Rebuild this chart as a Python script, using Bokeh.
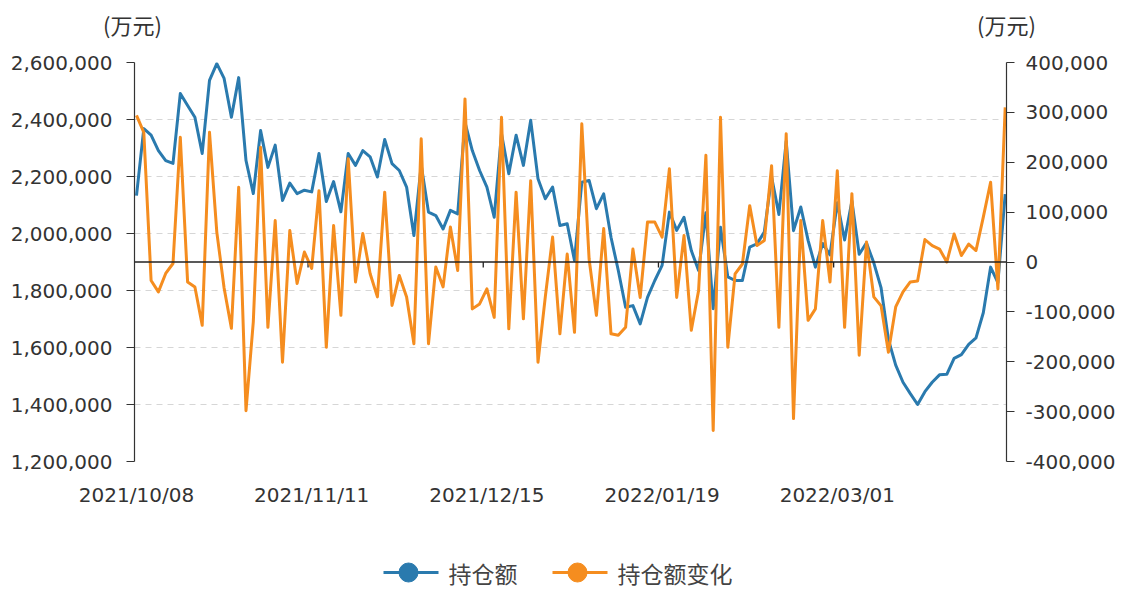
import pandas as pd
from bokeh.plotting import figure
from bokeh.models import (Range1d, LinearAxis, FixedTicker, NumeralTickFormatter,
                          Span, ColumnDataSource)
from bokeh.layouts import column
from bokeh.embed import file_html
from bokeh.resources import INLINE
from bokeh.core.properties import value

# ---------------- data ----------------
holidays = ["2022-01-03", "2022-01-31", "2022-02-01", "2022-02-02", "2022-02-03", "2022-02-04"]
dates = pd.bdate_range("2021-10-08", "2022-04-01", freq="C",
                       holidays=holidays).strftime("%Y/%m/%d").tolist()

series_names = ["持仓额", "持仓额变化"]
unit_text = "(万元)"

holding = [  # 持仓额 (万元)
    2133000, 2368000, 2345000, 2291000, 2256000, 2246000, 2491000, 2449000, 2408000, 2281000,
    2537000, 2596000, 2544000, 2408000, 2547000, 2256000, 2140000, 2361000, 2232000, 2310000,
    2116000, 2177000, 2140000, 2152000, 2146000, 2281000, 2112000, 2182000, 2076000, 2281000,
    2239000, 2291000, 2269000, 2198000, 2330000, 2245000, 2221000, 2163000, 1993000, 2240000,
    2075000, 2063000, 2016000, 2081000, 2069000, 2390000, 2291000, 2221000, 2163000, 2057000,
    2350000, 2210000, 2345000, 2239000, 2397000, 2192000, 2122000, 2163000, 2028000, 2034000,
    1905000, 2180000, 2186000, 2087000, 2139000, 1987000, 1870000, 1741000, 1747000, 1683000,
    1776000, 1835000, 1888000, 2075000, 2011000, 2057000, 1940000, 1870000, 2073000, 1736000,
    2022000, 1848000, 1835000, 1835000, 1952000, 1964000, 2005000, 2198000, 2067000, 2324000,
    2010000, 2093000, 1976000, 1882000, 1965000, 1925000, 2108000, 1977000, 2114000, 1927000,
    1967000, 1897000, 1809000, 1628000, 1538000, 1478000, 1438000, 1400000, 1445000, 1478000,
    1504000, 1506000, 1562000, 1575000, 1611000, 1634000, 1722000, 1882000, 1828000, 2138000,
]

change = [  # 持仓额变化 (万元)
    294000, 260000, -37000, -60000, -23000, -3000, 250000, -40000, -50000, -127000,
    260000, 60000, -52000, -133000, 150000, -298000, -120000, 230000, -131000, 83000,
    -201000, 63000, -43000, 20000, -13000, 143000, -171000, 73000, -107000, 207000,
    -40000, 57000, -23000, -70000, 140000, -87000, -27000, -70000, -164000, 247000,
    -164000, -10000, -50000, 70000, -17000, 327000, -94000, -84000, -54000, -111000,
    290000, -134000, 140000, -114000, 163000, -201000, -70000, 50000, -144000, 16000,
    -141000, 277000, 6000, -107000, 67000, -144000, -147000, -131000, 26000, -71000,
    80000, 80000, 50000, 187000, -71000, 53000, -137000, -57000, 214000, -338000,
    290000, -171000, -24000, -4000, 113000, 33000, 43000, 193000, -131000, 257000,
    -314000, 83000, -117000, -94000, 83000, -40000, 183000, -131000, 137000, -187000,
    40000, -70000, -88000, -181000, -90000, -60000, -40000, -38000, 45000, 33000,
    26000, 0, 56000, 13000, 36000, 23000, 90000, 160000, -54000, 310000,
]

label_idx = [0, 24, 48, 72, 96]
left_ticks = [1200000, 1400000, 1600000, 1800000, 2000000, 2200000, 2400000, 2600000]
right_ticks = [-400000, -300000, -200000, -100000, 0, 100000, 200000, 300000, 400000]

# ---------------- styling ----------------
BLUE = "#2a7aae"
ORANGE = "#f58d1f"
TXT = "#333333"
NUM_FONT = "DejaVu Sans"
CJK_FONT = "Noto Sans CJK SC"
W = 1120

n = len(dates)
idx = list(range(n))
src = ColumnDataSource(dict(x=idx, holding=holding, change=change, date=dates))

# ---------------- top strip with unit labels ----------------
t = figure(width=W, height=50, output_backend="svg", toolbar_location=None,
           x_range=Range1d(0, W), y_range=Range1d(0, 50),
           min_border_left=0, min_border_right=0, min_border_top=0, min_border_bottom=0)
t.frame_align = False
t.axis.visible = False
t.grid.visible = False
t.outline_line_color = None
t.text(x=[132, 1006], y=[27, 27], text=[unit_text, unit_text], text_align="center",
       text_baseline="middle", text_font=value(CJK_FONT), text_font_size="22px",
       text_color=TXT)

# ---------------- main chart ----------------
p = figure(width=W, height=480, output_backend="svg", toolbar_location=None,
           x_range=Range1d(-0.274, n - 1 + 0.178),
           y_range=Range1d(left_ticks[0], left_ticks[-1]),
           min_border_left=134, min_border_right=114, min_border_top=12, min_border_bottom=69)
p.frame_align = False
p.outline_line_color = None
p.background_fill_color = "white"
p.border_fill_color = "white"
p.extra_y_ranges = {"r": Range1d(right_ticks[0], right_ticks[-1])}

# left axis
ya = p.yaxis[0]
ya.ticker = FixedTicker(ticks=left_ticks)
ya.formatter = NumeralTickFormatter(format="0,0")
ya.axis_line_color = "#333333"
ya.axis_line_width = 1.2
ya.major_tick_line_color = "#333333"
ya.major_tick_out = 8
ya.major_tick_in = 0
ya.minor_tick_line_color = None
ya.major_label_standoff = 14
ya.major_label_text_font = NUM_FONT
ya.major_label_text_font_size = "20px"
ya.major_label_text_color = TXT

# right axis
ra = LinearAxis(y_range_name="r", ticker=FixedTicker(ticks=right_ticks),
                formatter=NumeralTickFormatter(format="0,0"))
ra.axis_line_color = "#333333"
ra.axis_line_width = 1.2
ra.major_tick_line_color = "#333333"
ra.major_tick_out = 8
ra.major_tick_in = 0
ra.minor_tick_line_color = None
ra.major_label_standoff = 11
ra.major_label_text_font = NUM_FONT
ra.major_label_text_font_size = "20px"
ra.major_label_text_color = TXT
p.add_layout(ra, "right")

# x axis (labels only)
xa = p.xaxis[0]
xa.ticker = FixedTicker(ticks=label_idx)
xa.major_label_overrides = {i: dates[i] for i in label_idx}
xa.axis_line_color = None
xa.major_tick_line_color = None
xa.minor_tick_line_color = None
xa.major_label_standoff = 15
xa.major_label_text_font = NUM_FONT
xa.major_label_text_font_size = "20px"
xa.major_label_text_color = TXT

# grid
p.xgrid.grid_line_color = None
p.ygrid.ticker = FixedTicker(ticks=left_ticks)
p.ygrid.grid_line_color = "#d6d6d6"
p.ygrid.grid_line_dash = "6 5"
p.ygrid.grid_line_width = 1

# zero line of right axis (category axis line) with small ticks
p.add_layout(Span(location=0, dimension="width", y_range_name="r",
                  line_color="#222222", line_width=1.3))
tick_x = [i - 0.5 for i in label_idx[1:]]
p.segment(x0=tick_x, x1=tick_x, y0=[0] * len(tick_x), y1=[-11000] * len(tick_x),
          y_range_name="r", line_color="#222222", line_width=1.3)

# series
p.line("x", "holding", source=src, line_color=BLUE, line_width=3, line_join="round")
p.line("x", "change", source=src, line_color=ORANGE, line_width=3, line_join="round",
       y_range_name="r")

# ---------------- legend strip ----------------
q = figure(width=W, height=59, output_backend="svg", toolbar_location=None,
           x_range=Range1d(0, W), y_range=Range1d(0, 59),
           min_border_left=0, min_border_right=0, min_border_top=0, min_border_bottom=0)
q.frame_align = False
q.axis.visible = False
q.grid.visible = False
q.outline_line_color = None
leg_colors = [BLUE, ORANGE]
leg_x0 = [383, 552]
for name, col, x0 in zip(series_names, leg_colors, leg_x0):
    q.segment(x0=[x0], x1=[x0 + 55], y0=[17], y1=[17], line_color=col, line_width=3)
    q.scatter(x=[x0 + 25], y=[17], size=19, marker="circle", fill_color=col, line_color=col)
    q.text(x=[x0 + 65], y=[17], text=[name], text_baseline="middle", text_align="left",
           text_font=value(CJK_FONT), text_font_size="23px", text_color="#444444")

layout = column(t, p, q, spacing=0)
open("out.html", "w").write(file_html(layout, INLINE))
